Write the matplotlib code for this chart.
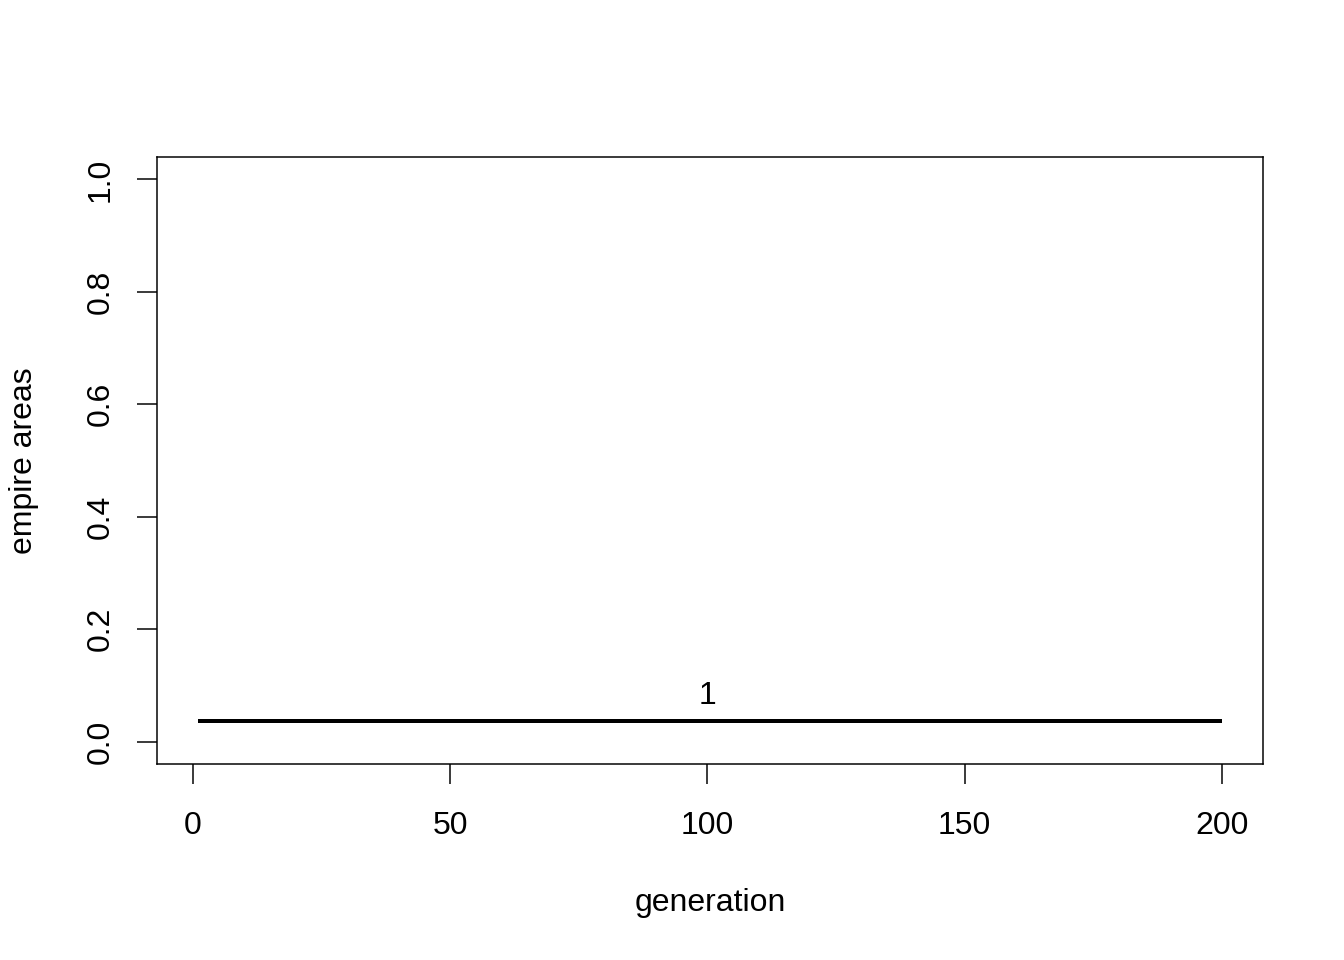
import matplotlib
matplotlib.use("Agg")
import matplotlib.pyplot as plt
import numpy as np

plt.rcParams['font.family'] = ['Liberation Sans', 'DejaVu Sans']

generation = np.arange(1, 201)
empire_area = np.full(200, 0.036)
empire_label = "1"
label_x = 100
x_ticks = [0, 50, 100, 150, 200]
y_ticks = [0.0, 0.2, 0.4, 0.6, 0.8, 1.0]

FS = 16

fig = plt.figure(figsize=(1344/144, 960/144), dpi=144)
ax = fig.add_axes([157/1344, 1 - 764/960, (1263-157)/1344, (764-157)/960])

ax.plot(generation, empire_area, color='black', linewidth=2.0, solid_capstyle='butt')
ax.annotate(empire_label, xy=(label_x, empire_area[label_x - 1]), xytext=(0, 5),
            textcoords='offset points', ha='center', va='bottom', fontsize=FS)

ax.set_xlim(1 - 0.04*199, 200 + 0.04*199)
ax.set_ylim(-0.04, 1.04)
ax.set_xticks(x_ticks)
ax.set_xticklabels([str(v) for v in x_ticks])
ax.set_yticks(y_ticks)
ax.set_yticklabels([f"{v:.1f}" for v in y_ticks], rotation=90, va='center')
ax.tick_params(axis='both', direction='out', length=10, width=0.75, labelsize=FS)
ax.tick_params(axis='x', pad=13.5)
ax.tick_params(axis='y', pad=10.5)
for s in ax.spines.values():
    s.set_linewidth(0.75)
ax.set_xlabel("generation", fontsize=FS, labelpad=23.5)
ax.set_ylabel("empire areas", fontsize=FS, labelpad=23.5)

fig.savefig("out.png", dpi=144)
